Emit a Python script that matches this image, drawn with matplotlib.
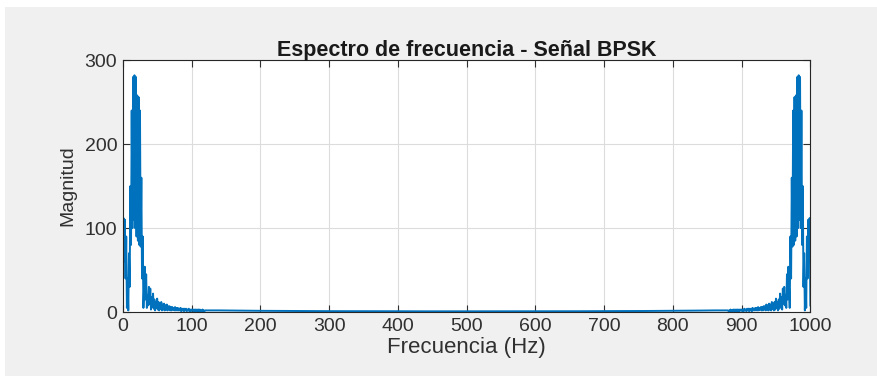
import numpy as np
import matplotlib
matplotlib.use("Agg")
import matplotlib.pyplot as plt
from matplotlib.patches import Rectangle

# ---- data ----
title = "Espectro de frecuencia - Señal BPSK"
xlabel = "Frecuencia (Hz)"
ylabel = "Magnitud"
xticks = [0, 100, 200, 300, 400, 500, 600, 700, 800, 900, 1000]
yticks = [0, 100, 200, 300]

# left band, 0..120 Hz at 1 Hz steps
freq_left = list(range(0, 121))
mag_left = [8, 112, 60, 110, 40, 90, 5, 40, 2, 70,
            30, 150, 80, 240, 100, 280, 110, 282, 100, 280,
            90, 258, 85, 256, 80, 240, 78, 160, 40, 90,
            5, 30, 54, 15, 45, 5, 20, 8, 30, 10,
            28, 3, 18, 6, 22, 4, 15, 2, 12, 5,
            16, 3, 12, 2, 10, 4, 12, 2, 9, 3,
            10, 2, 8, 3, 9, 2, 7, 3, 7, 2,
            6, 2, 6, 3, 5, 2, 6, 2, 5, 2,
            5, 2, 4, 2, 5, 1, 4, 2, 4, 1,
            4, 2, 4, 1, 3, 2, 4, 1, 3, 1,
            3, 2, 3, 1, 3, 1, 3, 1, 3, 1,
            3, 1, 3, 1, 2, 1, 3, 1, 2, 1,
            2]

# middle floor, 140..860 Hz every 20 Hz
freq_mid = list(range(140, 861, 20))
mag_mid = [2.0, 1.8, 1.6, 1.5, 1.4, 1.3, 1.2, 1.2, 1.1, 1.1,
           1.0, 1.0, 1.0, 1.0, 0.9, 0.9, 0.9, 0.9, 0.9, 0.9,
           0.9, 0.9, 0.9, 1.0, 1.0, 1.0, 1.0, 1.1, 1.1, 1.2,
           1.2, 1.3, 1.4, 1.5, 1.6, 1.8, 2.0]

# right band, 880..1000 Hz at 1 Hz steps
freq_right = list(range(880, 1001))
mag_right = [2,
             1, 2, 1, 3, 1, 2, 1, 3, 1, 3,
             1, 3, 1, 3, 1, 3, 1, 3, 2, 3,
             1, 3, 1, 4, 2, 3, 1, 4, 2, 4,
             1, 4, 2, 4, 1, 5, 2, 4, 2, 5,
             2, 5, 2, 6, 2, 5, 3, 6, 2, 6,
             2, 7, 3, 7, 2, 9, 3, 8, 2, 10,
             3, 9, 2, 12, 4, 10, 2, 12, 3, 16,
             5, 12, 2, 15, 4, 22, 6, 18, 3, 28,
             10, 30, 8, 20, 5, 45, 15, 54, 30, 5,
             90, 40, 160, 78, 240, 80, 256, 85, 258, 90,
             280, 100, 282, 110, 280, 100, 240, 80, 150, 30,
             70, 2, 40, 5, 90, 40, 110, 60, 112, 8]

freq = freq_left + freq_mid + freq_right
mag = mag_left + mag_mid + mag_right

# ---- drawing ----
plt.rcParams['font.family'] = ['Liberation Sans', 'DejaVu Sans']
fig = plt.figure(figsize=(8.77, 3.76), dpi=100, facecolor="#f0f0f0")
ax = fig.add_axes([0.140, 0.170, 0.784, 0.670])
ax.set_facecolor("white")

ax.plot(freq, mag, color="#0072BD", linewidth=1.4)

ax.set_xlim(0, 1000)
ax.set_ylim(0, 300)
ax.set_xticks(xticks)
ax.set_yticks(yticks)
ax.grid(True, color="#dcdcdc", linewidth=0.8)
ax.set_axisbelow(True)

tc = "#303030"
ax.tick_params(direction="in", length=5, width=0.8, colors=tc,
               labelsize=14, top=True, right=True, pad=4)
for s in ax.spines.values():
    s.set_color("#262626")
    s.set_linewidth(0.8)

ax.set_title(title, fontsize=15.5, fontweight="bold", color="#1a1a1a", pad=3)
ax.set_xlabel(xlabel, fontsize=16, color=tc, labelpad=2)
ax.set_ylabel(ylabel, fontsize=14, color=tc, labelpad=6)

# white border strips at the top and left of the screenshot
fig.patches.append(Rectangle((0, 1 - 7 / 376), 1, 7 / 376, transform=fig.transFigure,
                             facecolor="white", edgecolor="none", zorder=-1))
fig.patches.append(Rectangle((0, 0), 5 / 877, 1, transform=fig.transFigure,
                             facecolor="white", edgecolor="none", zorder=-1))

fig.savefig("out.png", dpi=100, facecolor=fig.get_facecolor())
